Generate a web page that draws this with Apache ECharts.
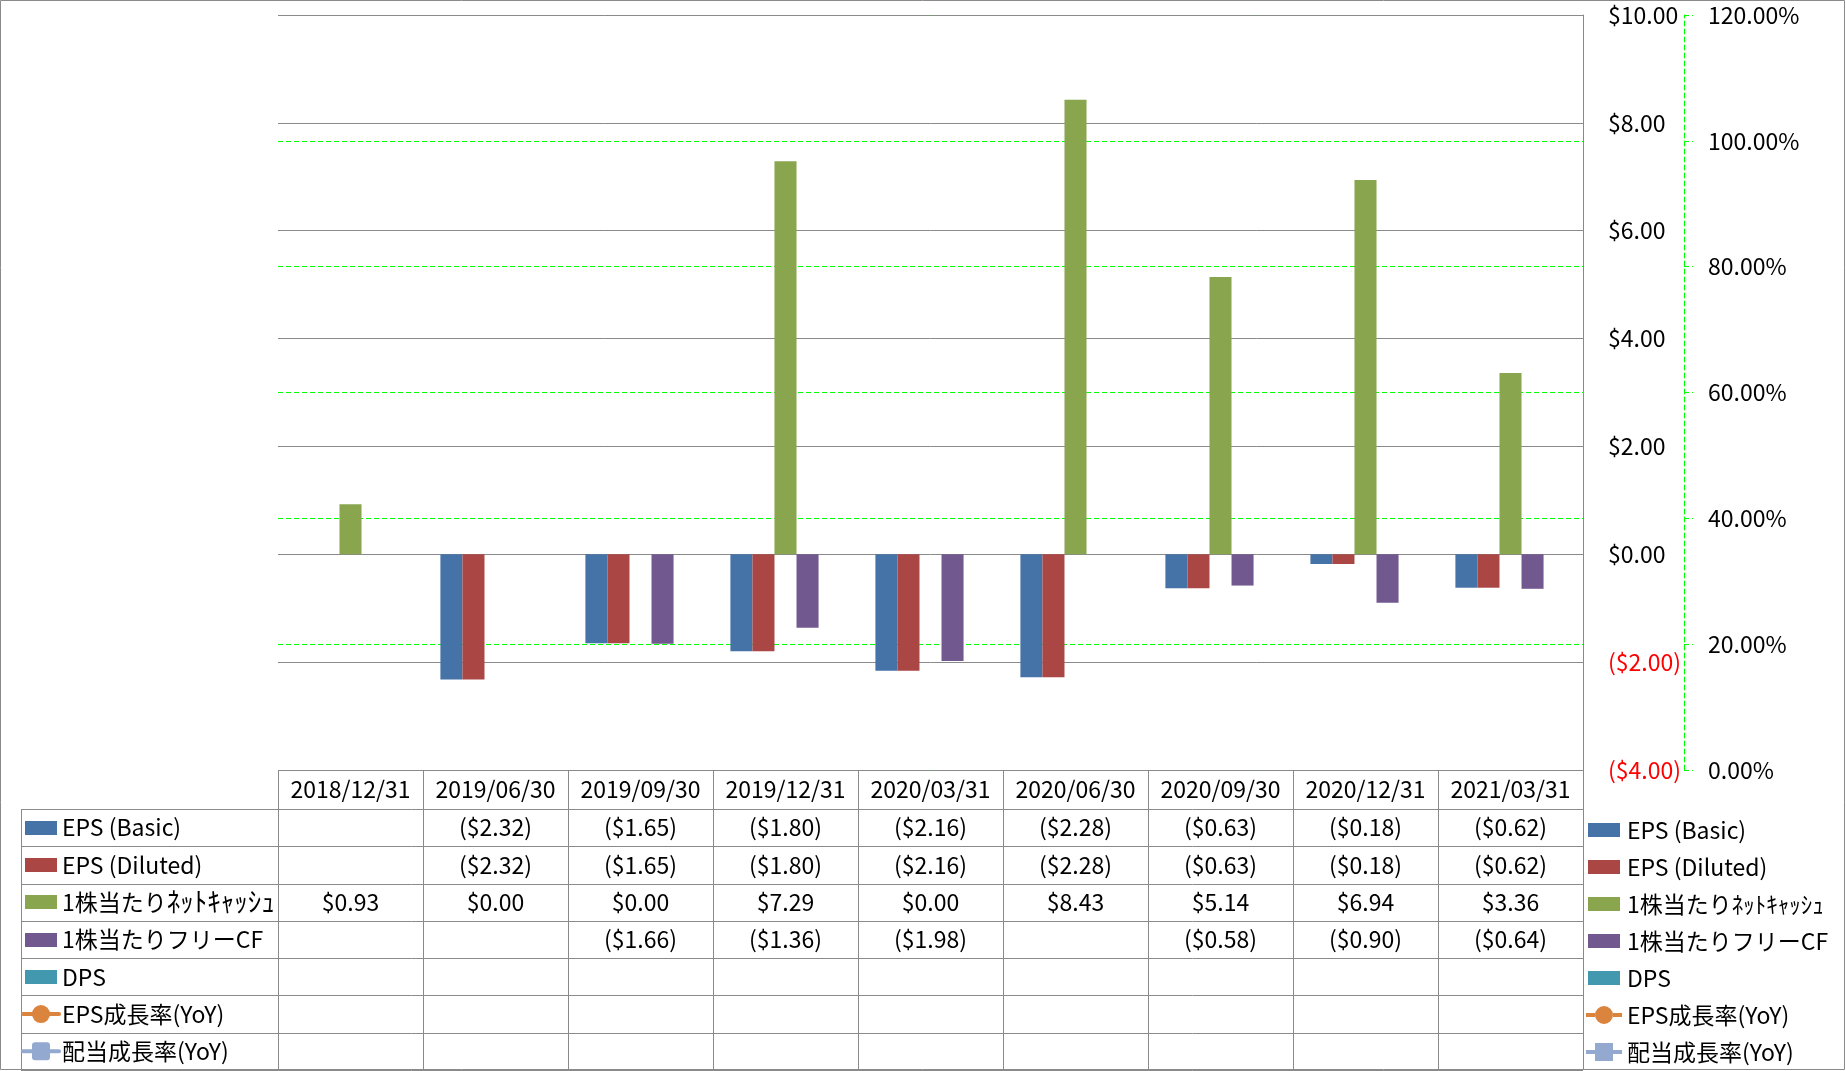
<!DOCTYPE html>
<html>
<head>
<meta charset="utf-8">
<script src="https://cdn.jsdelivr.net/npm/echarts@6/dist/echarts.min.js"></script>
<style>
html,body{margin:0;padding:0;background:#fff;}
#c{width:1846px;height:1071px;}
</style>
</head>
<body>
<div id="c"></div>
<script>
// ---- data ----
const categories = ['2018/12/31','2019/06/30','2019/09/30','2019/12/31','2020/03/31','2020/06/30','2020/09/30','2020/12/31','2021/03/31'];
const epsBasic   = [null, -2.32, -1.65, -1.80, -2.16, -2.28, -0.63, -0.18, -0.62];
const epsDiluted = [null, -2.32, -1.65, -1.80, -2.16, -2.28, -0.63, -0.18, -0.62];
const netCash    = [0.93, 0.00, 0.00, 7.29, 0.00, 8.43, 5.14, 6.94, 3.36];
const freeCF     = [null, null, -1.66, -1.36, -1.98, null, -0.58, -0.90, -0.64];
const dps        = [null, null, null, null, null, null, null, null, null];
const epsGrowth  = [null, null, null, null, null, null, null, null, null];
const divGrowth  = [null, null, null, null, null, null, null, null, null];
const seriesNames = ['EPS (Basic)', 'EPS (Diluted)', '1株当たりﾈｯﾄｷｬｯｼｭ', '1株当たりフリーCF', 'DPS', 'EPS成長率(YoY)', '配当成長率(YoY)'];
const primaryAxis = {min: -4, max: 10, interval: 2};
const secondaryAxis = {min: 0, max: 1.2, interval: 0.2};

// ---- style ----
const colors = ['#4572A7', '#AA4643', '#89A54E', '#71588F', '#4198AF', '#DB843D', '#93A9CF'];
const FONT = '"Noto Sans CJK JP", "Noto Sans", sans-serif';
const FS = 23;
const KANA_FS = 27;
const GRAY = '#8a8a8a';
const GREEN = '#00ff00';
const L = 278, R = 1583, T = 15, B = 770;
const W = 1846, H = 1071;

// legend icon shapes (36x18 box)
const ICON_BAR = 'path://M0,0 M36,18 M2,2 L34,2 L34,16 L2,16 Z';
const ICON_CIRCLE = 'path://M0,0 M36,18 M0,7 L9,7 L9,11 L0,11 Z M27,7 L36,7 L36,11 L27,11 Z M9,9 A9,9 0 1,1 27,9 A9,9 0 1,1 9,9 Z';
const ICON_SQUARE = 'path://M0,0 M36,18 M0,7 L9,7 L9,11 L0,11 Z M27,7 L36,7 L36,11 L27,11 Z M9,0 L27,0 L27,18 L9,18 Z';

function money(v) {
  if (v == null) return '';
  return v < 0 ? '($' + Math.abs(v).toFixed(2) + ')' : '$' + v.toFixed(2);
}
function pct(v) {
  if (v == null) return '';
  return (v * 100).toFixed(2) + '%';
}
// wrap half-width katakana runs in a rich-text style so they render a bit wider
function richName(name) {
  return name.replace(/([\uFF61-\uFF9F]+)/g, '{k|$1}');
}

const chart = echarts.init(document.getElementById('c'), null, {renderer: 'canvas'});

const barData = [epsBasic, epsDiluted, netCash, freeCF, dps];
const lineData = [epsGrowth, divGrowth];
const lineSymbols = ['circle', 'roundRect'];

const series = [];
barData.forEach((d, i) => {
  series.push({
    name: seriesNames[i], type: 'bar', data: d, yAxisIndex: 0,
    barGap: '0%', barCategoryGap: '24%',
    itemStyle: {color: colors[i]}
  });
});
lineData.forEach((d, j) => {
  const i = 5 + j;
  series.push({
    name: seriesNames[i], type: 'line', data: d, yAxisIndex: 1,
    symbol: lineSymbols[j], symbolSize: 16, showSymbol: true,
    lineStyle: {color: colors[i], width: 4},
    itemStyle: {color: colors[i]}
  });
});

// ---- data table drawn as graphics ----
const g = [];
const px = v => Math.round(v) + 0.5;
function hline(x1, x2, y) {
  g.push({type: 'line', silent: true, shape: {x1: x1, y1: px(y), x2: x2, y2: px(y)}, style: {stroke: GRAY, lineWidth: 1}});
}
function vline(x, y1, y2) {
  g.push({type: 'line', silent: true, shape: {x1: px(x), y1: y1, x2: px(x), y2: y2}, style: {stroke: GRAY, lineWidth: 1}});
}
function txt(s, x, y, align, rich) {
  const st = {text: s, fill: '#000', font: FS + 'px ' + FONT, align: align || 'center', verticalAlign: 'middle'};
  if (rich) st.rich = {k: {font: KANA_FS + 'px ' + FONT, fill: '#000', lineHeight: 24}};
  g.push({type: 'text', silent: true, x: x, y: y, style: st});
}
const nCat = categories.length;
const colW = (R - L) / nCat;
const headTop = B, headBot = 809, tableBot = 1070;
const tableRows = [epsBasic, epsDiluted, netCash, freeCF, dps, epsGrowth, divGrowth];
const rowH = (tableBot - headBot) / tableRows.length;
const keyLeft = 21;

hline(L, R, headTop);
for (let r = 0; r <= tableRows.length; r++) hline(keyLeft, R, headBot + r * rowH);
for (let c = 0; c <= nCat; c++) vline(L + c * colW, headTop, tableBot);
vline(keyLeft, headBot, tableBot);

categories.forEach((cat, c) => txt(cat, L + (c + 0.5) * colW, (headTop + headBot) / 2));
tableRows.forEach((row, r) => {
  const yc = headBot + (r + 0.5) * rowH;
  if (r < 5) {
    g.push({type: 'rect', silent: true, shape: {x: 25, y: Math.round(yc - 7), width: 32, height: 14}, style: {fill: colors[r]}});
  } else {
    g.push({type: 'line', silent: true, shape: {x1: 23, y1: yc, x2: 59, y2: yc}, style: {stroke: colors[r], lineWidth: 4, lineCap: 'round'}});
    if (r === 5) {
      g.push({type: 'circle', silent: true, shape: {cx: 41, cy: yc, r: 9}, style: {fill: colors[r]}});
    } else {
      g.push({type: 'rect', silent: true, shape: {x: 32, y: yc - 9, width: 18, height: 18, r: 3}, style: {fill: colors[r]}});
    }
  }
  txt(richName(seriesNames[r]), 62, yc, 'left', true);
  row.forEach((v, c) => {
    txt(r >= 5 ? pct(v) : money(v), L + (c + 0.5) * colW, yc);
  });
});
// outer chart border
g.push({type: 'rect', silent: true, z: 100, shape: {x: 0.5, y: 0.5, width: W - 2, height: H - 2}, style: {fill: 'none', stroke: GRAY, lineWidth: 1}});

const legendIcons = [ICON_BAR, ICON_BAR, ICON_BAR, ICON_BAR, ICON_BAR, ICON_CIRCLE, ICON_SQUARE];

chart.setOption({
  animation: false,
  backgroundColor: '#fff',
  color: colors,
  textStyle: {fontFamily: FONT},
  grid: {left: L, right: W - R, top: T, bottom: H - B, containLabel: false},
  xAxis: {type: 'category', data: categories, show: false},
  yAxis: [
    {
      type: 'value', position: 'right', z: 1,
      min: primaryAxis.min, max: primaryAxis.max, interval: primaryAxis.interval,
      axisLine: {show: true, lineStyle: {color: GRAY, width: 1}},
      axisTick: {show: false},
      splitLine: {show: true, lineStyle: {color: GRAY, width: 1}},
      axisLabel: {
        margin: 25, fontSize: FS, fontFamily: FONT, align: 'left',
        formatter: v => money(v),
        color: v => (Number(v) < 0 ? '#ff0000' : '#000000')
      }
    },
    {
      type: 'value', position: 'right', offset: 101, z: 0,
      min: secondaryAxis.min, max: secondaryAxis.max, interval: secondaryAxis.interval,
      axisLine: {show: true, lineStyle: {color: GREEN, width: 1, type: [5, 3]}},
      axisTick: {show: true, inside: false, length: 9, lineStyle: {color: GREEN, width: 1, type: [5, 3]}},
      splitLine: {show: true, lineStyle: {color: GREEN, width: 1, type: [5, 3]}},
      axisLabel: {margin: 24, fontSize: FS, fontFamily: FONT, color: '#000', align: 'left', formatter: v => pct(v)}
    }
  ],
  legend: {
    orient: 'vertical', left: 1586, top: 818, padding: 0,
    itemWidth: 36, itemHeight: 18, itemGap: 13,
    symbolKeepAspect: true,
    selectedMode: false,
    textStyle: {fontFamily: FONT, fontSize: FS, color: '#000', lineHeight: 24},
    data: seriesNames.map((n, i) => ({name: n, icon: legendIcons[i], itemStyle: {color: colors[i], borderWidth: 0}}))
  },
  graphic: g,
  series: series
});
</script>
</body>
</html>
